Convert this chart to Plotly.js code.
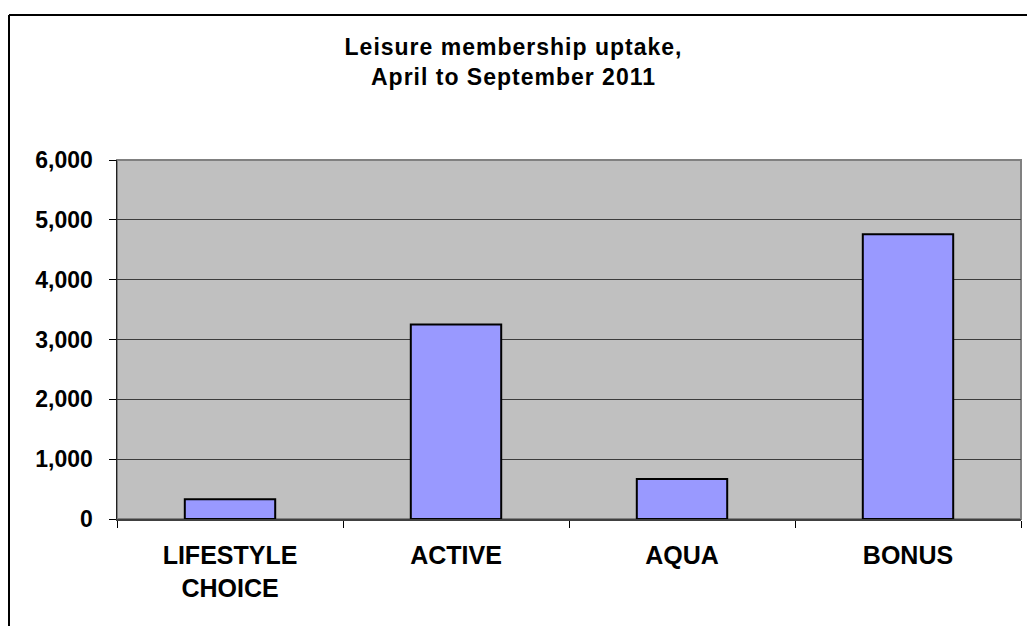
<!DOCTYPE html>
<html>
<head>
<meta charset="utf-8">
<script src="https://cdn.plot.ly/plotly-3.0.1.min.js"></script>
<style>
  html, body { margin: 0; padding: 0; background: #ffffff; }
  #chart { width: 1027px; height: 626px; }
  #chart .gtitle { letter-spacing: 1px; }
</style>
</head>
<body>
<div id="chart"></div>
<script>
// ---- data ----
const categories = ["LIFESTYLE<br>CHOICE", "ACTIVE", "AQUA", "BONUS"];
const uptake = [330, 3250, 670, 4760];
const yTickValues = [0, 1000, 2000, 3000, 4000, 5000, 6000];
const chartTitle = "Leisure membership uptake,<br>April to September 2011";

// ---- layout constants ----
const W = 1027, H = 626;
const M = { l: 117, r: 6, t: 160, b: 107 };
const plotW = W - M.l - M.r, plotH = H - M.t - M.b;
const px2paperX = px => (px - M.l) / plotW;
const px2paperY = py => (H - M.b - py) / plotH;

const FONT = '"Liberation Sans", Arial, sans-serif';

const trace = {
  type: 'bar',
  x: categories,
  y: uptake,
  marker: { color: '#9999FF', line: { color: '#000000', width: 2 } },
  hoverinfo: 'skip'
};

const layout = {
  width: W, height: H,
  margin: M,
  paper_bgcolor: '#ffffff',
  plot_bgcolor: '#C0C0C0',
  showlegend: false,
  bargap: 0.6,
  title: {
    text: chartTitle,
    font: { family: FONT, size: 23, color: '#000000', weight: 'bold' },
    x: 0.5, xref: 'container', xanchor: 'center',
    y: 1 - 55 / H, yref: 'container', yanchor: 'top'
  },
  xaxis: {
    type: 'category',
    tickson: 'boundaries',
    ticks: 'outside', ticklen: 7, tickwidth: 1, tickcolor: '#000000',
    showline: true, linecolor: '#404040', linewidth: 2,
    showgrid: false,
    tickfont: { family: FONT, size: 25, color: '#000000', weight: 'bold' },
    ticklabelstandoff: 13
  },
  yaxis: {
    range: [0, 6000],
    tickvals: yTickValues,
    tickformat: ',d',
    ticks: 'outside', ticklen: 7, tickwidth: 1, tickcolor: '#000000',
    showline: true, linecolor: '#202020', linewidth: 1.5,
    showgrid: true, gridcolor: '#3c3c3c', gridwidth: 1,
    zeroline: false,
    tickfont: { family: FONT, size: 23, color: '#000000', weight: 'bold' },
    ticklabelstandoff: 11
  },
  shapes: [
    // plot area frame (top/right grey edge)
    { type: 'rect', xref: 'x domain', yref: 'y domain', x0: 0, x1: 1, y0: 0, y1: 1,
      line: { color: '#808080', width: 2 }, layer: 'below' },
    // outer chart border (top + left)
    { type: 'line', xref: 'paper', yref: 'paper',
      x0: px2paperX(9), x1: px2paperX(1040), y0: px2paperY(15), y1: px2paperY(15),
      line: { color: '#000000', width: 2 } },
    { type: 'line', xref: 'paper', yref: 'paper',
      x0: px2paperX(9), x1: px2paperX(9), y0: px2paperY(15), y1: px2paperY(640),
      line: { color: '#000000', width: 2 } }
  ]
};

Plotly.newPlot('chart', [trace], layout, { displayModeBar: false, staticPlot: true });
</script>
</body>
</html>
